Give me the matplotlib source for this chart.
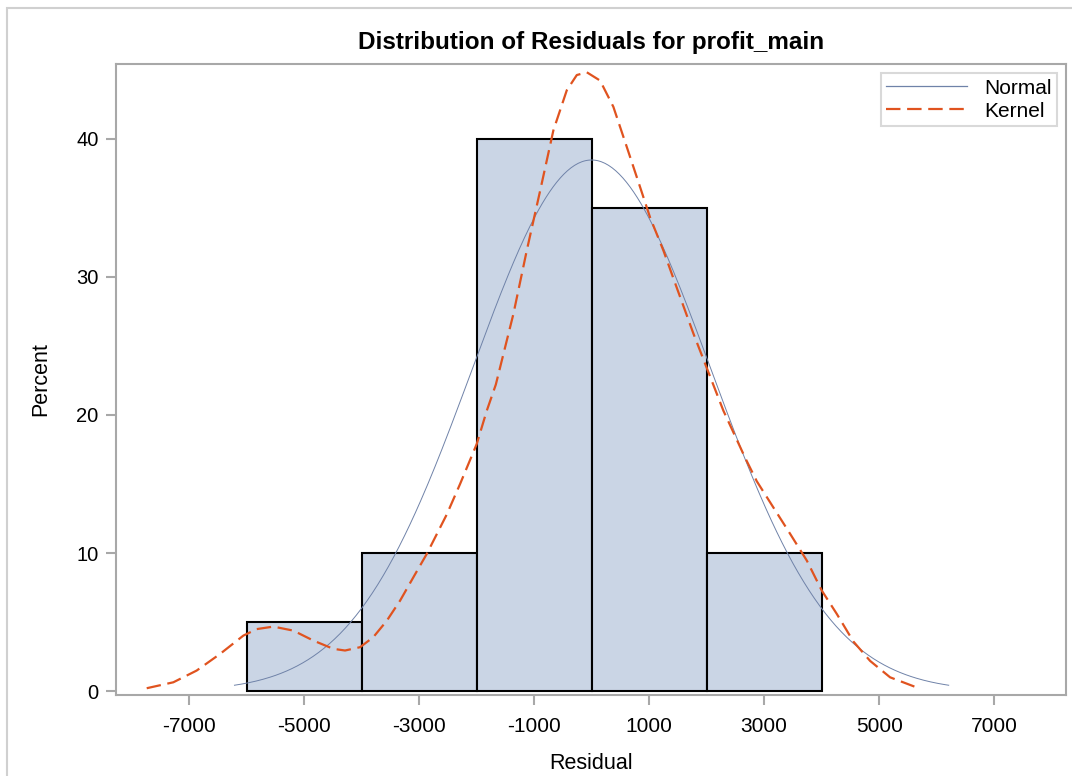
import numpy as np
import matplotlib
matplotlib.use("Agg")
import matplotlib.pyplot as plt
from matplotlib.patches import Rectangle
from matplotlib.lines import Line2D

plt.rcParams['font.family'] = ['Liberation Sans', 'DejaVu Sans']

# ---- data ----
bin_edges = [-6000, -4000, -2000, 0, 2000, 4000]
bin_percents = [5, 10, 40, 35, 10]

normal_mu = 0.0
normal_sigma = 2075.0
normal_range = (-6210, 6210)

kernel_x = [-7736, -7273, -6867, -6461, -6055, -5823, -5534, -5186, -4838, -4490,
            -4287, -4026, -3797, -3562, -3330, -3099, -2866, -2518, -2287, -1997,
            -1823, -1665, -1360, -1127, -896, -664, -431, -257, -83, 148,
            379, 612, 843, 1017, 1249, 1482, 1770, 2003, 2293, 2670,
            2873, 3162, 3452, 3743, 4003, 4264, 4553, 4843, 5191, 5614]
kernel_y = [0.22, 0.65, 1.5, 2.7, 4.03, 4.5, 4.68, 4.39, 3.67, 3.07,
            2.95, 3.19, 3.91, 5.1, 6.56, 8.25, 9.94, 12.8, 15.0, 17.9,
            20.3, 22.2, 27.3, 31.9, 36.2, 40.6, 43.5, 44.6, 44.8, 44.2,
            42.3, 39.4, 36.5, 34.3, 31.9, 29.2, 25.9, 23.4, 20.3, 16.9,
            15.2, 13.3, 11.4, 9.46, 7.29, 5.6, 3.6, 2.2, 1.01, 0.34]

x_ticks = [-7000, -5000, -3000, -1000, 1000, 3000, 5000, 7000]
y_ticks = [0, 10, 20, 30, 40]

title = "Distribution of Residuals for profit_main"
x_label = "Residual"
y_label = "Percent"

# ---- figure ----
W, H = 1072, 776
fig = plt.figure(figsize=(W / 100, H / 100), dpi=100)
ax = fig.add_axes([116 / W, 1 - 695 / H, (1066 - 116) / W, (695 - 64) / H])

# outer light border
fig.add_artist(Rectangle((7 / W, -0.1), 1.2, (1 - 8 / H) + 0.1, transform=fig.transFigure,
                         fill=False, edgecolor='#d0d0d0', linewidth=1.5))

bar_color = '#CAD5E5'
widths = np.diff(bin_edges)
ax.bar(bin_edges[:-1], bin_percents, width=widths, align='edge',
       color=bar_color, edgecolor='black', linewidth=1.5, zorder=2)

xs = np.linspace(normal_range[0], normal_range[1], 400)
bw = bin_edges[1] - bin_edges[0]
ys = 100 * bw * np.exp(-0.5 * ((xs - normal_mu) / normal_sigma) ** 2) / (normal_sigma * np.sqrt(2 * np.pi))
ax.plot(xs, ys, color='#6F82A8', linewidth=0.7, zorder=3)

kernel_dash = (6.5, 3)
ax.plot(kernel_x, kernel_y, color='#E0531F', linewidth=1.6, dashes=kernel_dash, zorder=4)

ax.set_xlim(-8270, 8250)
ax.set_ylim(-0.27, 45.4)
ax.set_xticks(x_ticks)
ax.set_xticklabels([str(v) for v in x_ticks])
ax.set_yticks(y_ticks)

for s in ax.spines.values():
    s.set_color('#a8a8a8')
    s.set_linewidth(1.5)
ax.tick_params(axis='both', colors='#a8a8a8', labelcolor='black',
               length=7, width=1.5, direction='out')
ax.tick_params(axis='x', pad=9, labelsize=15)
ax.tick_params(axis='y', pad=5.5, labelsize=14.5)

ax.set_title(title, fontsize=17.5, fontweight='bold', pad=11)
ax.set_xlabel(x_label, fontsize=15.5, labelpad=12)
ax.set_ylabel(y_label, fontsize=15.5, labelpad=18)

handles = [Line2D([], [], color='#6F82A8', linewidth=0.9),
           Line2D([], [], color='#E0531F', linewidth=1.6, dashes=kernel_dash)]
leg = ax.legend(handles, ['Normal', 'Kernel'], loc='upper right', fontsize=15,
                frameon=True, fancybox=False, edgecolor='#d0d0d0', handlelength=3.9,
                borderaxespad=0.45, handletextpad=0.8, labelspacing=0.2, borderpad=0.25)
leg.get_frame().set_linewidth(1.5)

fig.savefig('out.png', dpi=100)
